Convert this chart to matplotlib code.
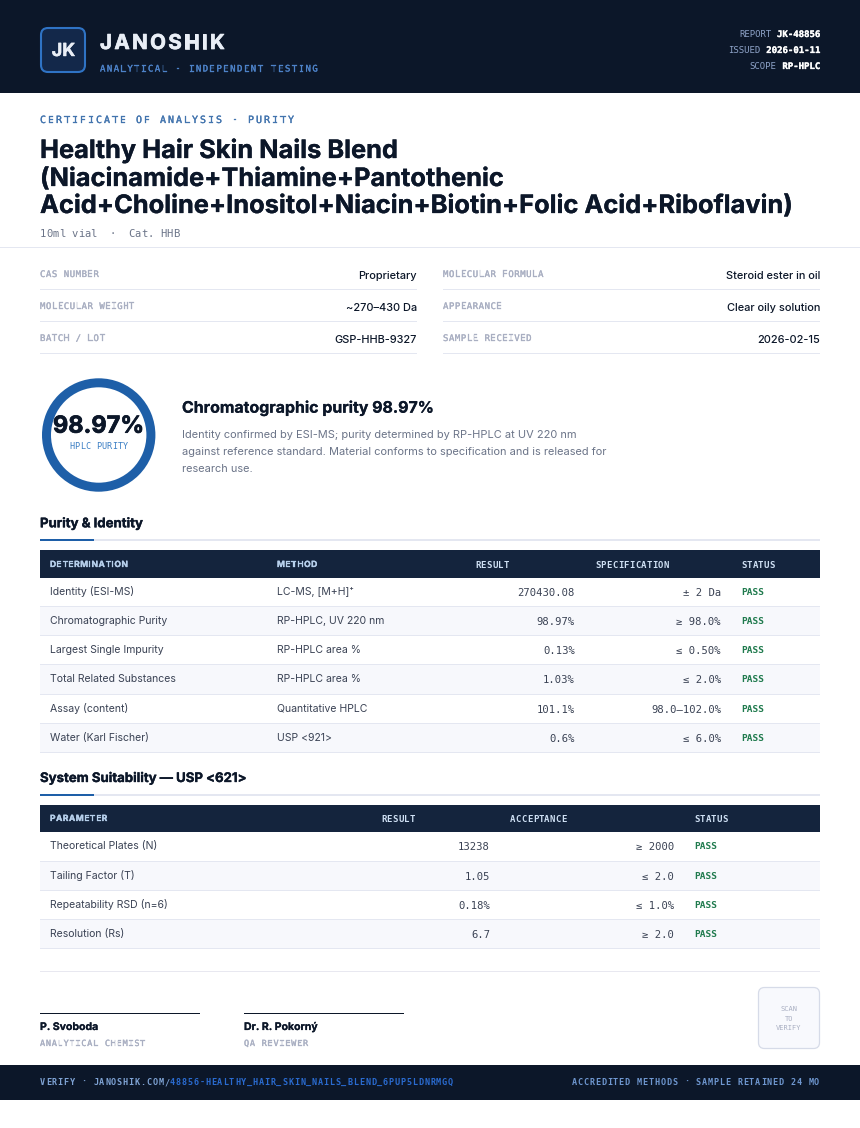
import matplotlib
matplotlib.use('Agg')
import matplotlib.pyplot as plt
import matplotlib.patheffects as pe
from matplotlib.patches import Rectangle, FancyBboxPatch, Wedge
from matplotlib.font_manager import FontProperties
from matplotlib.textpath import TextToPath

SANS = 'Inter'
MONO = 'DejaVu Sans Mono'

# colours
DARK = '#0c1729'
NAVY = '#14243d'
BLUE = '#1e5fa8'
RULE = '#e4e7f1'
BAND = '#f7f8fc'
CELL = '#3a4254'
MUTED = '#a9afc2'
GREEN = '#1f7a4d'

# header
brand = 'JANOSHIK'
tagline = 'ANALYTICAL · INDEPENDENT TESTING'
report_labels = ['REPORT', 'ISSUED', 'SCOPE']
report_values = ['JK-48856', '2026-01-11', 'RP-HPLC']

# title block
eyebrow = 'CERTIFICATE OF ANALYSIS · PURITY'
title_lines = ['Healthy Hair Skin Nails Blend',
               '(Niacinamide+Thiamine+Pantothenic',
               'Acid+Choline+Inositol+Niacin+Biotin+Folic Acid+Riboflavin)']
subtitle = '10ml vial  ·  Cat. HHB'

# meta grid
meta_left_labels = ['CAS NUMBER', 'MOLECULAR WEIGHT', 'BATCH / LOT']
meta_left_values = ['Proprietary', '~270–430 Da', 'GSP-HHB-9327']
meta_right_labels = ['MOLECULAR FORMULA', 'APPEARANCE', 'SAMPLE RECEIVED']
meta_right_values = ['Steroid ester in oil', 'Clear oily solution', '2026-02-15']

# purity
purity_text = '98.97%'
purity_label = 'HPLC PURITY'
purity_heading = 'Chromatographic purity 98.97%'
purity_para = ['Identity confirmed by ESI-MS; purity determined by RP-HPLC at UV 220 nm',
               'against reference standard. Material conforms to specification and is released for',
               'research use.']

# table 1
t1_title = 'Purity & Identity'
t1_determination = ['Identity (ESI-MS)', 'Chromatographic Purity', 'Largest Single Impurity',
                    'Total Related Substances', 'Assay (content)', 'Water (Karl Fischer)']
t1_method = ['LC-MS, [M+H]⁺', 'RP-HPLC, UV 220 nm', 'RP-HPLC area %',
             'RP-HPLC area %', 'Quantitative HPLC', 'USP <921>']
t1_result = ['270430.08', '98.97%', '0.13%', '1.03%', '101.1%', '0.6%']
t1_spec = ['± 2 Da', '≥ 98.0%', '≤ 0.50%', '≤ 2.0%', '98.0–102.0%', '≤ 6.0%']
t1_status = ['PASS', 'PASS', 'PASS', 'PASS', 'PASS', 'PASS']

# table 2
t2_title = 'System Suitability — USP <621>'
t2_parameter = ['Theoretical Plates (N)', 'Tailing Factor (T)', 'Repeatability RSD (n=6)', 'Resolution (Rs)']
t2_result = ['13238', '1.05', '0.18%', '6.7']
t2_accept = ['≥ 2000', '≤ 2.0', '≤ 1.0%', '≥ 2.0']
t2_status = ['PASS', 'PASS', 'PASS', 'PASS']

# sign off and footer
signers = ['P. Svoboda', 'Dr. R. Pokorný']
signer_roles = ['ANALYTICAL CHEMIST', 'QA REVIEWER']
scan_lines = ['SCAN', 'TO', 'VERIFY']
verify_prefix = 'VERIFY · JANOSHIK.COM/'
verify_slug = '48856-HEALTHY_HAIR_SKIN_NAILS_BLEND_6PUP5LDNRMGQ'
footer_right = 'ACCREDITED METHODS · SAMPLE RETAINED 24 MO'


fig = plt.figure(figsize=(8.6, 11.28), dpi=100, facecolor='white')
ax = fig.add_axes([0, 0, 1, 1])
ax.set_xlim(0, 860)
ax.set_ylim(1128, 0)
ax.axis('off')

ttp = TextToPath()


def px(size):
    return size * 0.72


def txt(x, y, s, size, color=DARK, weight='normal', family=SANS, ha='left', stroke=0):
    t = ax.text(x, y, s, fontsize=px(size), color=color, fontweight=weight,
                family=family, ha=ha, va='baseline')
    if stroke:
        # the installed weights run a little light, thicken them up
        t.set_path_effects([pe.withStroke(linewidth=stroke, foreground=color)])
    return t


def char_w(ch, size, weight, family):
    fp = FontProperties(family=family, weight=weight, size=px(size))
    w, _, _ = ttp.get_text_width_height_descent(ch, fp, False)
    return w / 0.72


def tracked(x, y, s, size, spacing, color=DARK, weight='normal', family=SANS, stroke=0):
    # no letter-spacing in matplotlib, so step through the characters
    for ch in s:
        if ch != ' ':
            txt(x, y, ch, size, color, weight, family, stroke=stroke)
        x += char_w(ch if ch != ' ' else 'n', size, weight, family) + spacing
    return x


def mono_tracked(x, y, s, size, advance, color=DARK, weight='normal', stroke=0):
    for i, ch in enumerate(s):
        if ch != ' ':
            txt(x + i * advance, y, ch, size, color, weight, MONO, stroke=stroke)


def rect(x0, y0, x1, y1, color):
    ax.add_patch(Rectangle((x0, y0), x1 - x0, y1 - y0, facecolor=color, edgecolor='none'))


# top band
rect(0, 0, 860, 93, DARK)
ax.add_patch(FancyBboxPatch((41, 28), 44, 44, boxstyle='round,pad=0,rounding_size=7',
                            facecolor='#13284a', edgecolor='#2f73c4', linewidth=1.5))
txt(63.5, 56, 'JK', 18, '#e9eef6', 'bold', ha='center', stroke=0.3)
tracked(100, 49, brand, 20.5, 2.4, '#e9eef6', 'bold', stroke=0.5)
mono_tracked(100, 71.5, tagline, 9, 6.85, '#4d82c8', stroke=0.2)

for i in range(3):
    y = 37 + 16 * i
    txt(820, y, report_values[i], 9, 'white', 'bold', MONO, ha='right', stroke=0.2)
    x_val = 820 - len(report_values[i]) * 5.42 - 5.5
    txt(x_val, y, report_labels[i], 9, '#8ea3c8', 'normal', MONO, ha='right')

# title block
mono_tracked(40, 123, eyebrow, 10, 8.0, '#4274ae', stroke=0.2)
for y, line in zip([158, 186, 213], title_lines):
    txt(40, y, line, 25.4, DARK, 'bold', stroke=0.2)
mono_tracked(40, 237, subtitle, 10.5, 6.32, '#6b7488')
rect(0, 247, 860, 248, RULE)

# meta grid
for i in range(3):
    y = 289 + 32 * i
    rect(40, y, 417, y + 1, RULE)
    rect(443, y, 820, y + 1, RULE)
    mono_tracked(40, 277 + 32 * i, meta_left_labels[i], 9, 5.94, MUTED, stroke=0.2)
    mono_tracked(443, 277 + 32 * i, meta_right_labels[i], 9, 5.94, MUTED, stroke=0.2)
    txt(417, 279 + 32 * i, meta_left_values[i], 11, DARK, 'medium', ha='right')
    txt(820, 279 + 32 * i, meta_right_values[i], 11, DARK, 'medium', ha='right')

# purity ring
ax.add_patch(Wedge((98.7, 435), 56.7, 0, 360, width=9, facecolor=BLUE, edgecolor='none'))
txt(98.7, 432.7, purity_text, 23.5, DARK, 'bold', ha='center', stroke=0.5)
mono_tracked(69, 449, purity_label, 8.5, 5.4, '#3b7fc4')
txt(182, 412.7, purity_heading, 15.9, DARK, 'bold', stroke=0.15)
for i, line in enumerate(purity_para):
    txt(182, 438 + 17 * i, line, 11, '#6b7488')


def section(y_base, y_rule, title):
    txt(40, y_base, title, 13.2, DARK, 'bold', stroke=0.25)
    rect(40, y_rule, 820, y_rule + 2, RULE)
    rect(40, y_rule, 94, y_rule + 2, BLUE)


def table_head(y0, y1, y_text, labels):
    rect(40, y0, 820, y1, NAVY)
    for x, lab, mono in labels:
        if mono:
            mono_tracked(x, y_text + 0.5, lab, 9, 5.7, '#cfe0f4', 'bold')
        else:
            tracked(x, y_text, lab, 8.5, 0.5, '#b7d0ec', 'bold', stroke=0.2)


# table 1
section(527.3, 539, t1_title)
table_head(550, 578, 567, [(50, 'DETERMINATION', False), (277, 'METHOD', False),
                           (475, 'RESULT', True), (595, 'SPECIFICATION', True), (741, 'STATUS', True)])
t1_lines = [606, 635, 664, 693.5, 723, 752]
t1_base = [595, 624, 653, 682, 712, 741]
top = 578
for i in range(len(t1_determination)):
    if i % 2 == 1:
        rect(40, top, 820, t1_lines[i], BAND)
    rect(40, t1_lines[i], 820, t1_lines[i] + 1, RULE)
    top = t1_lines[i] + 1
    y = t1_base[i]
    txt(50, y, t1_determination[i], 10.5, CELL)
    txt(277, y, t1_method[i], 10.5, CELL)
    txt(575, y + 1, t1_result[i], 10.5, CELL, family=MONO, ha='right')
    txt(721, y + 1, t1_spec[i], 10.5, CELL, family=MONO, ha='right')
    txt(741, y, t1_status[i], 9.5, GREEN, 'bold', MONO)

# table 2
section(782, 794, t2_title)
table_head(805, 832, 821, [(50, 'PARAMETER', False), (381, 'RESULT', True),
                           (510, 'ACCEPTANCE', True), (694, 'STATUS', True)])
t2_lines = [861, 890, 919, 948]
t2_base = [849.3, 879, 908, 937]
top = 832
for i in range(len(t2_parameter)):
    if i % 2 == 1:
        rect(40, top, 820, t2_lines[i], BAND)
    rect(40, t2_lines[i], 820, t2_lines[i] + 1, RULE)
    top = t2_lines[i] + 1
    y = t2_base[i]
    txt(50, y, t2_parameter[i], 10.5, CELL)
    txt(490, y + 1, t2_result[i], 10.5, CELL, family=MONO, ha='right')
    txt(674, y + 1, t2_accept[i], 10.5, CELL, family=MONO, ha='right')
    txt(694, y, t2_status[i], 9.5, GREEN, 'bold', MONO)

# sign off
rect(40, 971, 820, 972, '#e8e8f0')
for x, name, role in zip([40, 244], signers, signer_roles):
    rect(x, 1012.7, x + 160, 1014, DARK)
    txt(x, 1030, name, 10.5, DARK, 'bold', stroke=0.15)
    mono_tracked(x, 1046, role, 8.5, 5.9, MUTED, stroke=0.2)

ax.add_patch(FancyBboxPatch((758.5, 987.5), 61, 61, boxstyle='round,pad=0,rounding_size=6',
                            facecolor='#f8f9fd', edgecolor='#d6dbe8', linewidth=0.9))
for y, line in zip([1011.3, 1021, 1030], scan_lines):
    txt(789, y, line, 7, MUTED, family=MONO, ha='center')

# bottom band
rect(0, 1065, 860, 1100, DARK)
mono_tracked(40, 1085, verify_prefix, 8.5, 5.91, '#7fa3d4', 'bold')
mono_tracked(40 + len(verify_prefix) * 5.91, 1085, verify_slug, 8.5, 5.91, '#2a6bd0', 'bold')
mono_tracked(820 - len(footer_right) * 5.92, 1085, footer_right, 8.5, 5.92, '#6f97d0', 'bold')

fig.savefig('out.png', dpi=100, facecolor='white')
